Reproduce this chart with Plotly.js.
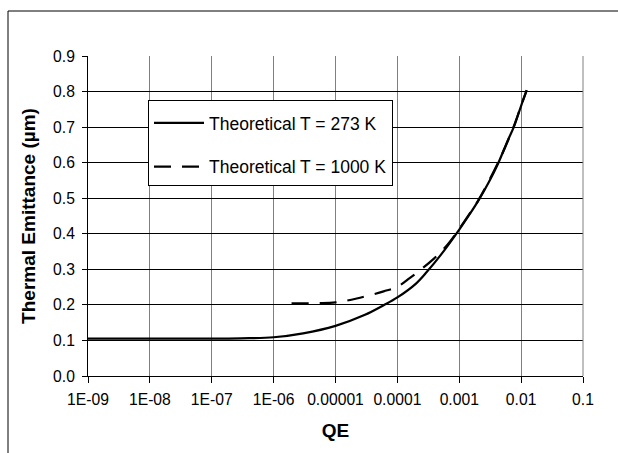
<!DOCTYPE html>
<html>
<head>
<meta charset="utf-8">
<script src="https://cdn.plot.ly/plotly-3.0.1.min.js"></script>
<style>html,body{margin:0;padding:0;background:#fff;}#chart{width:618px;height:453px;}</style>
</head>
<body>
<div id="chart"></div>
<script>
// Theoretical T = 273 K
var qe273 = [1e-9, 1e-8, 1e-7, 3e-7, 1e-6, 3e-6, 1e-5, 3e-5, 6e-5, 1e-4, 2e-4, 3e-4, 5e-4, 1e-3, 1.5e-3, 2e-3, 3e-3, 4.3e-3, 6e-3, 7.6e-3, 1e-2, 1.23e-2];
var em273 = [0.105, 0.105, 0.105, 0.106, 0.109, 0.12, 0.141, 0.172, 0.199, 0.221, 0.26, 0.293, 0.34, 0.412, 0.457, 0.491, 0.545, 0.6, 0.66, 0.7, 0.76, 0.803];
// Theoretical T = 1000 K
var qe1000 = [1.95e-6, 5e-6, 1e-5, 2.2e-5, 6e-5, 1e-4, 1.6e-4, 3.9e-4, 6.5e-4, 1e-3, 1.5e-3, 2e-3, 4.3e-3, 7.6e-3, 1e-2, 1.23e-2];
var em1000 = [0.204, 0.205, 0.207, 0.218, 0.238, 0.251, 0.276, 0.33, 0.37, 0.414, 0.459, 0.492, 0.602, 0.702, 0.761, 0.804];
var xTickVals = [1e-9, 1e-8, 1e-7, 1e-6, 1e-5, 1e-4, 1e-3, 1e-2, 1e-1];
var xTickText = ["1E-09", "1E-08", "1E-07", "1E-06", "0.00001", "0.0001", "0.001", "0.01", "0.1"];
var names = ["Theoretical T = 273 K", "Theoretical T = 1000 K"];

var font = "Liberation Sans, Arial, sans-serif";
var traces = [
  {x: qe273, y: em273, name: names[0], mode: "lines", legendgroup: "a",
   line: {color: "#000", width: 2.2, shape: "spline", smoothing: 1}},
  {x: qe1000, y: em1000, name: names[1], mode: "lines", legendgroup: "b",
   line: {color: "#000", width: 2.2, dash: "17px,11px", shape: "spline", smoothing: 1}}
];
var layout = {
  width: 618, height: 453,
  margin: {l: 88, r: 35, t: 56, b: 77},
  paper_bgcolor: "#fff", plot_bgcolor: "#fff",
  font: {family: font, size: 16, color: "#000"},
  showlegend: true,
  legend: {x: 0.1212, y: 0.8625, xanchor: "left", yanchor: "top",
    bgcolor: "#fff", bordercolor: "#000", borderwidth: 1,
    font: {family: font, size: 17.5, color: "#000"},
    title: {text: " ", font: {family: font, size: 3}},
    traceorder: "grouped", tracegroupgap: 18, itemwidth: 50},
  xaxis: {type: "log", range: [-9, -1], tickvals: xTickVals, ticktext: xTickText,
    showgrid: true, gridcolor: "#808080", gridwidth: 1,
    showline: true, linecolor: "#000", linewidth: 1,
    ticks: "outside", ticklen: 6, tickcolor: "#000", ticklabelstandoff: 3,
    tickfont: {family: font, size: 15.7, color: "#000"},
    zeroline: false,
    title: {text: "<b>QE</b>", font: {family: font, size: 19, color: "#000"}, standoff: 16}},
  yaxis: {range: [0, 0.9], dtick: 0.1, tickformat: ".1f",
    showgrid: true, gridcolor: "#000", gridwidth: 1,
    showline: true, linecolor: "#000", linewidth: 1,
    ticks: "outside", ticklen: 5, tickcolor: "#000", ticklabelstandoff: 4,
    tickfont: {family: font, size: 15.7, color: "#000"},
    zeroline: false,
    title: {text: "<b>Thermal Emittance (µm)</b>", font: {family: font, size: 19, color: "#000"}, standoff: 12}},
  shapes: [
    {type: "rect", xref: "paper", yref: "paper", x0: -0.1616, x1: 1.08, y0: -0.27, y1: 1.1406,
     line: {color: "#000", width: 1}, fillcolor: "rgba(0,0,0,0)", layer: "below"},
    {type: "line", xref: "paper", yref: "paper", x0: 1, x1: 1, y0: 0, y1: 1,
     line: {color: "#808080", width: 1}}
  ]
};
Plotly.newPlot("chart", traces, layout, {staticPlot: true, displayModeBar: false});
</script>
</body>
</html>
